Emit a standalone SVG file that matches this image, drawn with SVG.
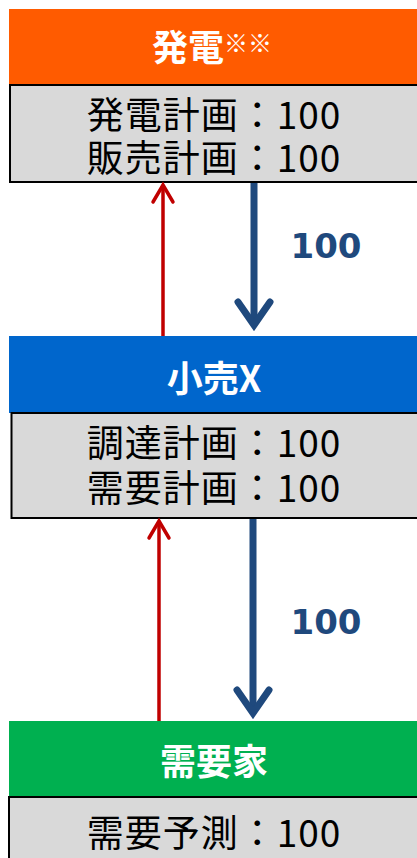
<svg xmlns="http://www.w3.org/2000/svg" width="417" height="858" viewBox="0 0 417 858">
<style>
.hd{font-family:"Noto Sans CJK JP","Noto Sans",sans-serif;font-weight:bold;font-size:36px;fill:#fff;text-anchor:middle}
.bd{font-family:"Noto Sans CJK JP","Noto Sans",sans-serif;font-size:37px;letter-spacing:1px;fill:#000;text-anchor:middle}
.box{fill:#D9D9D9;stroke:#000;stroke-width:2}
.qty{font-family:"DejaVu Sans",Verdana,sans-serif;font-weight:bold;font-size:34px;fill:#1F497D;text-anchor:middle}
.flow{stroke:#1F497D;stroke-width:7;fill:none}
.info{stroke:#C00000;stroke-width:3.5;fill:none}
</style>
<defs>
<marker id="mb" markerUnits="userSpaceOnUse" viewBox="-30 -20 40 40" markerWidth="40" markerHeight="40" refX="0" refY="0" orient="auto" overflow="visible">
<path d="M-23,-16 L0,0 L-23,16" fill="none" stroke="#1F497D" stroke-width="7" stroke-linecap="round" stroke-linejoin="miter"/>
</marker>
<marker id="mr" markerUnits="userSpaceOnUse" viewBox="-30 -20 40 40" markerWidth="40" markerHeight="40" refX="0" refY="0" orient="auto" overflow="visible">
<path d="M-17,-10 L0,0 L-17,10" fill="none" stroke="#C00000" stroke-width="3.5" stroke-linecap="round" stroke-linejoin="miter"/>
</marker>
</defs>
<rect width="417" height="858" fill="#fff"/>
<g id="gen">
<rect x="9" y="9" width="410" height="75" fill="#FF5B00"/>
<text class="hd" x="152" y="61" style="text-anchor:start">発電<tspan font-size="24" font-weight="normal" dy="-9">※※</tspan></text>
<rect class="box" x="10" y="85" width="420" height="97"/>
<text class="bd" x="214" y="129">発電計画：100</text>
<text class="bd" x="214" y="172">販売計画：100</text>
</g>
<g id="retail">
<rect x="9" y="336" width="410" height="77" fill="#0066CC"/>
<text class="hd" x="214" y="392">小売X</text>
<rect class="box" x="11.5" y="413" width="420" height="105"/>
<text class="bd" x="214" y="457">調達計画：100</text>
<text class="bd" x="214" y="502">需要計画：100</text>
</g>
<g id="demand">
<rect x="9" y="721" width="410" height="76" fill="#00B050"/>
<text class="hd" x="214" y="775">需要家</text>
<rect class="box" x="9" y="797" width="420" height="70"/>
<text class="bd" x="214" y="847">需要予測：100</text>
</g>
<g id="connectors">
<line class="info" x1="163" y1="336" x2="163" y2="185" marker-end="url(#mr)"/>
<line class="flow" x1="254" y1="183" x2="254" y2="325" marker-end="url(#mb)"/>
<line class="info" x1="159" y1="721" x2="159" y2="521" marker-end="url(#mr)"/>
<line class="flow" x1="253" y1="519" x2="253" y2="713" marker-end="url(#mb)"/>
<text class="qty" x="326" y="258">100</text>
<text class="qty" x="326" y="634">100</text>
</g>
</svg>
